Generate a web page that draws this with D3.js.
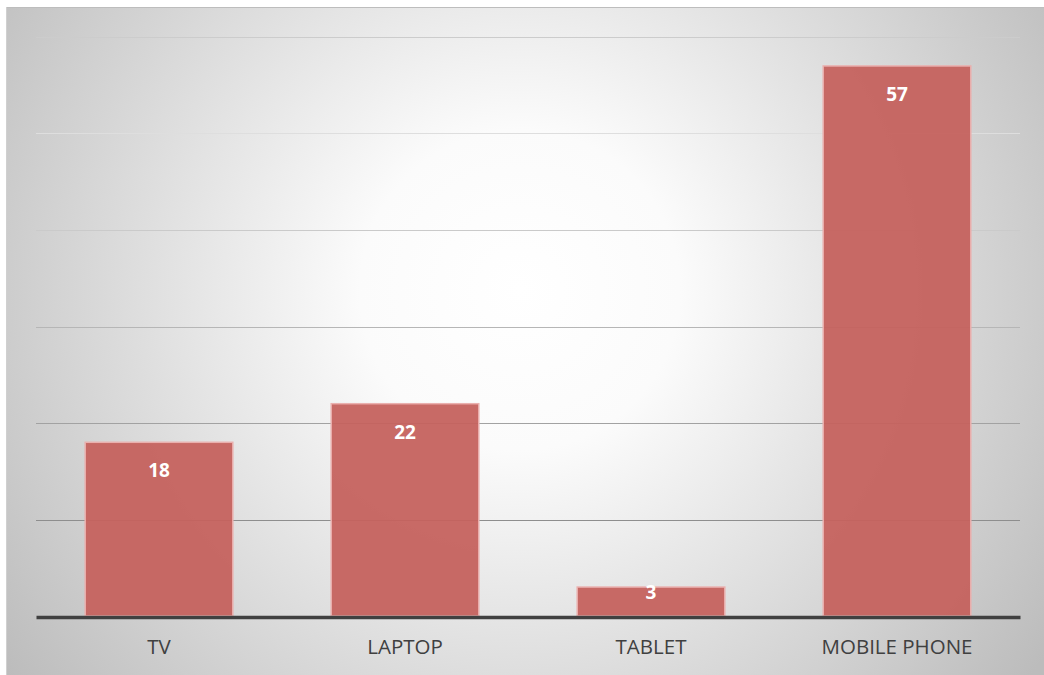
<!DOCTYPE html>
<html>
<head>
<meta charset="utf-8">
<script src="https://cdn.jsdelivr.net/npm/d3@7"></script>
<style>
  body { margin: 0; background: #fff; }
  svg { display: block; }
</style>
</head>
<body>
<div id="chart"></div>
<script>
// data
var categories = ["TV", "LAPTOP", "TABLET", "MOBILE PHONE"];
var values = [18, 22, 3, 57];
var yTicks = [0, 10, 20, 30, 40, 50, 60];

var W = 1044, H = 675;
var margin = {top: 37, right: 24, bottom: 59, left: 36};

var svg = d3.select("#chart")
  .append("svg")
    .attr("width", W)
    .attr("height", H);

// radial background, light in the middle, grey at the edges
var defs = svg.append("defs");
var grad = defs.append("radialGradient")
  .attr("id", "bg")
  .attr("gradientUnits", "userSpaceOnUse")
  .attr("cx", 520).attr("cy", 290).attr("r", 640);
grad.append("stop").attr("offset", "0%").attr("stop-color", "#ffffff");
grad.append("stop").attr("offset", "25%").attr("stop-color", "#fbfbfb");
grad.append("stop").attr("offset", "100%").attr("stop-color", "#bcbcbc");

svg.append("rect")
  .attr("x", 6).attr("y", 7)
  .attr("width", W - 6).attr("height", H - 7)
  .attr("fill", "url(#bg)");
svg.append("line")
  .attr("x1", 6).attr("x2", W).attr("y1", 7.5).attr("y2", 7.5)
  .attr("stroke", "#bdbdbd");
svg.append("line")
  .attr("x1", 6.5).attr("x2", 6.5).attr("y1", 7).attr("y2", H)
  .attr("stroke", "#d0d0d0");

var width = W - margin.left - margin.right,
    height = H - margin.top - margin.bottom;

var g = svg.append("g")
  .attr("transform", "translate(" + margin.left + "," + margin.top + ")");

var x = d3.scaleBand()
  .domain(categories)
  .range([0, width])
  .paddingInner(0.4)
  .paddingOuter(0.2);

var y = d3.scaleLinear()
  .domain([0, 60])
  .range([height, 0]);

// gridlines get darker towards the bottom
var gridColor = d3.scaleLinear()
  .domain([10, 50, 60])
  .range(["#8e8e8e", "#dedede", "#cccccc"]);

g.selectAll("line.grid")
  .data(yTicks.slice(1))
  .enter()
  .append("line")
    .attr("class", "grid")
    .attr("x1", 0).attr("x2", width)
    .attr("y1", function(d) { return Math.round(y(d)) + 0.5; })
    .attr("y2", function(d) { return Math.round(y(d)) + 0.5; })
    .attr("stroke", function(d) { return gridColor(d); })
    .attr("stroke-width", 1.2);

// bars
g.selectAll("rect.bar")
  .data(values)
  .enter()
  .append("rect")
    .attr("class", "bar")
    .attr("x", function(d, i) { return x(categories[i]); })
    .attr("y", function(d) { return y(d); })
    .attr("width", x.bandwidth())
    .attr("height", function(d) { return height - y(d); })
    .attr("fill", "#c5625e")
    .attr("fill-opacity", 0.95)
    .attr("stroke", "#eab0ae")
    .attr("stroke-width", 1.5);

// value labels
g.selectAll("text.val")
  .data(values)
  .enter()
  .append("text")
    .attr("class", "val")
    .attr("x", function(d, i) { return x(categories[i]) + x.bandwidth() / 2; })
    .attr("y", function(d) { return Math.min(y(d) + 35, height - 17); })
    .attr("text-anchor", "middle")
    .style("font-family", "'Open Sans', sans-serif")
    .style("font-size", "19px")
    .style("font-weight", "bold")
    .style("fill", "#ffffff")
    .text(function(d) { return d; });

// x axis
var xAxis = g.append("g")
  .attr("transform", "translate(0," + (height + 1) + ")")
  .call(d3.axisBottom(x).tickSize(0).tickPadding(22));
xAxis.select(".domain")
  .attr("stroke", "#404040")
  .attr("stroke-width", 3.5);
xAxis.selectAll("text")
  .style("font-family", "'Open Sans', sans-serif")
  .style("font-size", "20.5px")
  .style("fill", "#404040");
</script>
</body>
</html>
